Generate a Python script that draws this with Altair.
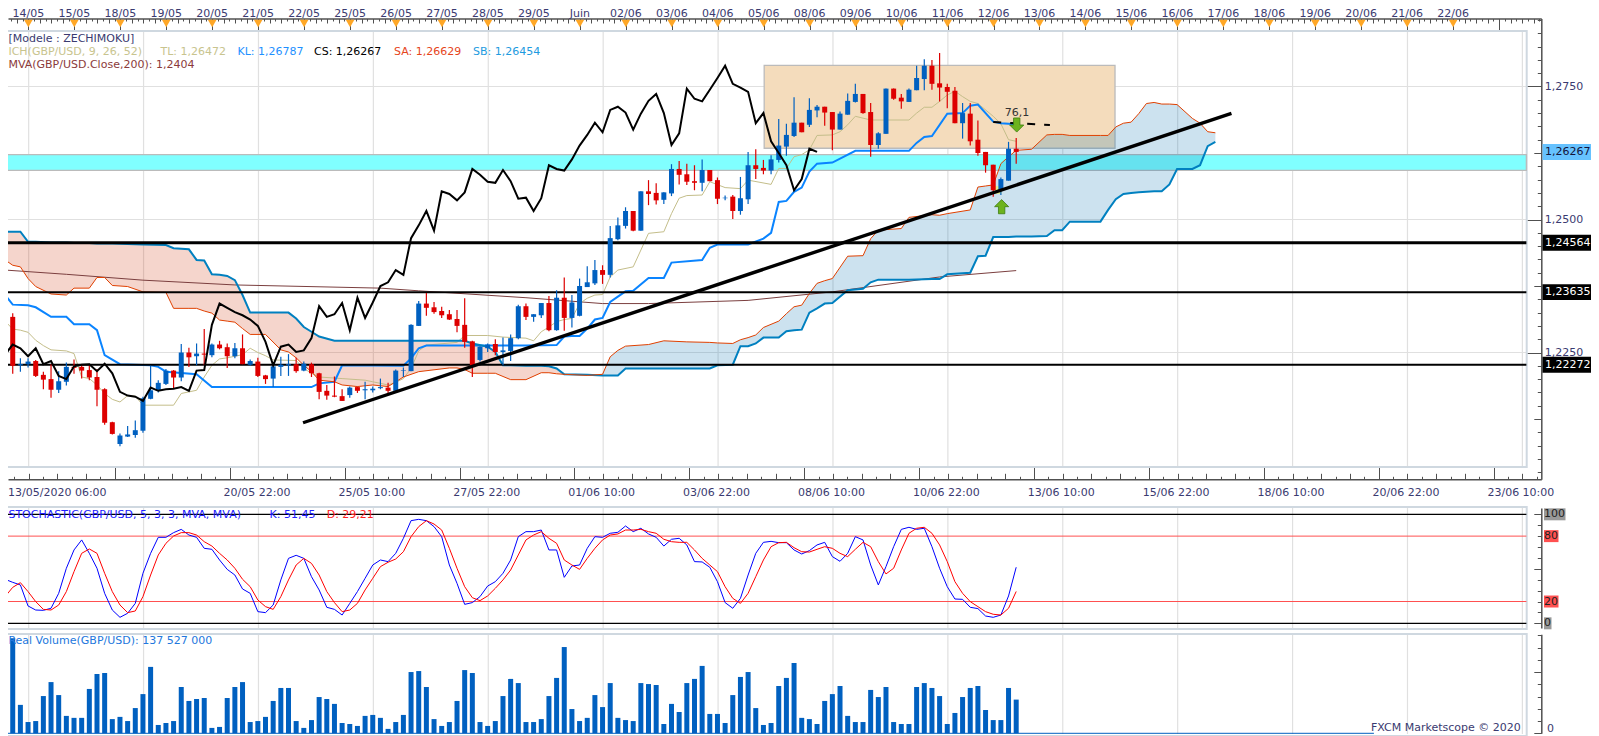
import altair as alt
import pandas as pd

# ---- candles (prices x 10000, one candle every 4 hours) ----
opens = [12273,12317,12226,12228,12234,12208,12200,12180,12195,12223,12223,12217,12204,12181,12119,12078,12092,12095,12103,12163,12178,12191,12216,12203,12250,12243,12248,12245,12265,12260,12243,12258,12227,12233,12207,12201,12223,12226,12228,12216,12228,12211,12178,12169,12168,12170,12185,12179,12179,12183,12184,12178,12216,12215,12300,12342,12335,12328,12322,12313,12302,12271,12236,12258,12266,12251,12253,12277,12337,12317,12320,12343,12292,12353,12315,12319,12373,12380,12405,12396,12463,12488,12516,12479,12553,12550,12537,12549,12595,12585,12572,12569,12593,12574,12540,12543,12516,12538,12602,12597,12592,12612,12637,12657,12682,12678,12705,12712,12702,12669,12697,12721,12736,12702,12640,12661,12746,12729,12721,12743,12764,12789,12756,12749,12742,12681,12699,12650,12627,12603,12555,12573,12633]
closes = [12317,12225,12228,12233,12206,12199,12180,12196,12223,12221,12216,12203,12180,12118,12097,12094,12096,12104,12164,12179,12193,12216,12203,12250,12241,12248,12246,12265,12258,12243,12258,12228,12234,12206,12200,12224,12227,12228,12215,12229,12211,12176,12169,12167,12159,12184,12178,12181,12182,12185,12178,12216,12217,12302,12342,12334,12326,12320,12312,12300,12270,12226,12261,12265,12251,12254,12277,12337,12317,12322,12343,12292,12353,12315,12344,12375,12382,12405,12396,12465,12489,12516,12479,12553,12548,12536,12551,12595,12584,12571,12569,12593,12572,12539,12541,12516,12540,12602,12595,12592,12613,12639,12659,12682,12664,12706,12712,12701,12669,12699,12723,12736,12700,12640,12662,12746,12727,12722,12744,12766,12789,12755,12748,12740,12681,12700,12647,12625,12602,12555,12576,12633,12627]
highs = [12337,12324,12239,12239,12236,12214,12228,12215,12231,12237,12228,12226,12219,12183,12120,12098,12112,12122,12167,12225,12198,12219,12217,12266,12259,12267,12294,12267,12272,12267,12268,12284,12237,12240,12208,12225,12242,12247,12240,12233,12231,12212,12189,12205,12181,12186,12186,12195,12186,12201,12193,12218,12222,12303,12347,12362,12345,12336,12330,12330,12352,12272,12262,12267,12275,12278,12284,12340,12342,12322,12343,12356,12367,12391,12358,12389,12412,12424,12414,12488,12504,12523,12516,12553,12574,12568,12551,12604,12610,12605,12602,12613,12593,12579,12545,12546,12580,12627,12632,12612,12621,12689,12680,12730,12682,12728,12715,12712,12702,12703,12737,12755,12736,12719,12664,12746,12746,12736,12746,12789,12801,12800,12813,12755,12749,12719,12719,12686,12627,12603,12579,12646,12653]
lows = [12267,12210,12214,12222,12204,12181,12165,12174,12188,12210,12201,12198,12149,12114,12096,12074,12091,12090,12099,12162,12175,12189,12183,12196,12223,12226,12226,12241,12256,12221,12239,12228,12225,12204,12191,12185,12206,12206,12212,12215,12204,12162,12161,12166,12159,12165,12174,12162,12175,12181,12171,12175,12204,12215,12300,12319,12323,12315,12311,12288,12259,12204,12233,12251,12245,12226,12234,12275,12311,12308,12315,12290,12291,12291,12297,12318,12373,12377,12379,12391,12461,12483,12478,12479,12527,12528,12529,12544,12566,12565,12555,12553,12572,12529,12536,12501,12509,12529,12576,12585,12585,12607,12620,12655,12664,12674,12692,12676,12630,12669,12697,12720,12699,12618,12633,12661,12725,12708,12721,12743,12743,12744,12722,12709,12681,12652,12639,12620,12588,12543,12546,12573,12605]

# ---- Ichimoku: Tenkan (TL) and Kijun (KL) vertices ----
tl_i = [0,1,2,3,4,5,6,8,9,10,11,12,13,14,15,16,17,18,22,23,25,26,27,28,29,31,32,33,34,35,38,39,40,41,44,47,48,49,50,51,52,53,54,55,59,60,63,65,68,69,70,71,72,73,74,75,76,77,78,79,80,82,84,86,87,88,89,91,92,94,96,97,100,101,102,103,104,105,106,108,109,110,111,113,118,119,120,121,122,123,124,125,126,127,129,130,131,132]
tl_p = [12309,12294,12292,12288,12273,12263,12255,12253,12248,12204,12201,12189,12173,12162,12157,12169,12168,12151,12151,12173,12179,12204,12226,12238,12240,12246,12258,12250,12244,12236,12235,12220,12211,12204,12201,12198,12195,12192,12189,12194,12201,12220,12253,12264,12269,12282,12282,12279,12277,12272,12289,12298,12308,12312,12314,12342,12352,12358,12359,12392,12405,12411,12474,12477,12511,12540,12545,12546,12571,12560,12558,12574,12566,12596,12596,12618,12622,12631,12658,12659,12665,12678,12694,12687,12687,12700,12711,12711,12722,12734,12741,12731,12722,12718,12694,12680,12650,12647]
kl_i = [0,1,3,4,6,8,9,11,12,13,15,19,20,21,25,27,40,41,43,44,52,53,54,55,68,72,73,74,75,76,77,78,79,80,81,82,84,86,87,91,92,93,97,99,100,101,102,103,104,105,106,108,111,118,119,120,121,123,125,126,127,129,130,132]
kl_p = [12358,12340,12339,12335,12317,12317,12303,12303,12292,12245,12228,12226,12223,12214,12209,12185,12185,12192,12195,12226,12225,12239,12258,12263,12263,12264,12280,12281,12281,12295,12312,12315,12345,12355,12365,12366,12390,12390,12419,12424,12447,12453,12453,12464,12475,12533,12535,12552,12560,12590,12605,12607,12629,12629,12644,12655,12657,12699,12700,12714,12716,12684,12681,12679]

# ---- Ichimoku cloud: Senkou A / Senkou B ----
cloud_i = [0,1,2,3,4,6,8,9,11,12,13,14,16,18,21,22,24,25,26,27,28,29,30,31,32,34,36,37,38,39,40,41,43,44,46,48,50,51,52,54,58,59,60,61,63,64,65,66,68,
           70,71,72,73,76,78,79,80,81,84,86,89,92,93,95,96,97,98,99,101,102,103,104,105,106,107,108,110,112,113,114,117,118,121,122,123,126,127,128,129,130,131,132,134,136,137,138,139,143,144,145,146,147,148,149,150,151,152,153,155,156,157,158]
senkou_a = [12424,12414,12411,12389,12374,12360,12358,12371,12371,12391,12391,12376,12374,12364,12363,12333,12333,12333,12328,12324,12311,12309,12307,12295,12284,12284,12255,12251,12240,12226,12214,12198,12195,12189,12186,12189,12186,12195,12204,12214,12221,12221,12218,12211,12211,12211,12205,12199,12199,
            12212,12212,12210,12209,12207,12209,12242,12254,12262,12265,12272,12270,12269,12268,12267,12274,12278,12283,12297,12309,12323,12336,12339,12361,12380,12385,12389,12431,12432,12464,12480,12483,12504,12509,12508,12511,12518,12561,12563,12565,12605,12618,12630,12632,12659,12660,12660,12658,12658,12658,12674,12681,12683,12699,12718,12720,12717,12717,12716,12690,12681,12665,12663]
senkou_b = [12477,12477,12477,12458,12458,12457,12457,12456,12456,12455,12455,12455,12454,12453,12452,12446,12444,12424,12423,12397,12396,12394,12386,12358,12325,12325,12325,12325,12314,12298,12289,12280,12272,12272,12272,12272,12272,12272,12272,12272,12272,12272,12272,12267,12261,12251,12226,12226,12225,
            12225,12224,12220,12209,12208,12207,12207,12207,12220,12220,12220,12220,12220,12226,12227,12262,12262,12267,12278,12278,12290,12292,12293,12325,12333,12342,12343,12367,12370,12382,12387,12387,12387,12388,12388,12397,12400,12431,12432,12467,12467,12467,12468,12468,12469,12480,12480,12496,12496,12518,12538,12548,12550,12551,12552,12553,12553,12566,12595,12595,12602,12638,12646]
cloud_turn = 78

# ---- 200-period moving average ----
mva_i = [0,8,18,30,49,54,68,78,84,97,108,122,132]
mva_p = [12405,12397,12386,12377,12371,12366,12353,12342,12342,12348,12364,12392,12404]

# ---- Stochastic ----
stoch_k = [40.4,37.6,35.2,15.9,12.2,11.9,13.8,27.5,50.5,67.3,76.5,64.2,50.5,27.5,12.2,5.5,9.2,18.3,45.9,64.2,78.9,78.9,83.2,86.2,81,78.9,68.8,67.9,58.1,49.5,44.3,31.5,27.5,10.7,9.8,16.8,39.8,59.6,62.4,59.6,42.8,30.6,14.7,12.8,7.6,18.3,29.1,41.3,53.5,58.1,56.6,64.2,78,94.2,95.4,94.2,88.7,79.5,53.5,36.7,17.4,19,24.5,34.2,38.2,45.9,58.1,79.5,84.1,
           84.1,85.6,67.3,67.3,42.2,52.6,53.5,68.8,79.5,78.9,82.6,83.5,89.3,84.1,87.2,82,78.9,70.9,77.1,78,71.9,56.6,56.3,51.4,38.2,19,13.8,22.9,44.3,64.2,74.3,75.2,74,74,67.3,63.6,66.7,71.9,74.3,61.2,56.9,64.2,79.5,76.5,53.5,35.2,52,70.3,86.2,88.1,86.2,87.2,70.3,50.5,33.6,22.3,22,14.7,13.5,6.7,5.5,7.6,25.1,51.45]
stoch_d = [24.5,33,37.3,29.1,19.9,12.8,12.2,16.8,29.1,47.4,64.2,68.2,64.2,45.9,29.1,16.8,9.8,11.3,24.5,44.3,62.7,73.4,80.1,83.2,83.2,81,74.9,70.9,64.2,58.1,50.5,40.4,33.6,21.4,15.3,12.8,24.5,39.8,53.5,59.6,55,44.3,29.1,19,10.7,12.2,18.3,30.6,41.3,52,56,59,65.7,79.5,88.7,94.2,91.1,85.6,68.8,50.5,33.6,23.5,20.8,25.1,32.1,39.8,48.9,62.7,76.5,
           81,84.1,78,73.4,58.1,53.5,49.5,59.6,68.8,76.5,81,82,85.6,85.6,86.2,84.1,82.6,77.1,74.9,74.3,74.3,67.3,59.6,53.5,47.4,33.6,22.9,18.3,27.5,42.8,58.1,70.3,74,74.3,69.4,65.7,65.4,67.9,70.3,68.8,64.2,61.2,67.9,74.3,70.3,56.6,45.3,50.5,67.3,82.6,87.2,88.1,82.6,71.9,56.6,38.2,27.5,19.9,15.3,10.7,8.3,7.6,13.8,29.21]

# ---- Real volume, millions ----
volume = [166,388,116,46,50,152,209,156,71,63,63,181,242,246,58,67,50,103,160,271,34,42,50,189,132,140,144,22,26,144,189,209,46,50,67,132,185,185,50,22,54,148,140,120,42,38,30,71,75,63,18,46,75,250,254,189,58,30,46,132,258,246,46,30,50,152,222,205,46,
          46,58,152,226,352,99,50,63,156,107,205,63,54,50,205,201,197,38,120,87,205,222,275,79,79,42,156,230,250,103,34,42,193,226,287,63,58,38,132,160,193,71,46,46,177,148,189,46,38,38,189,205,185,152,38,83,148,185,193,95,54,54,185,137.527]

# ---- levels, zones ----
support_levels = [1.24564, 1.23635, 1.22272]
support_widths = [3, 2, 2]
trend_i = [38.9, 160.1]
trend_p = [1.2118, 1.26996]
band_top, band_bottom = 1.26218, 1.25925
box_i = [99.1, 144.9]
box_top, box_bottom = 1.27898, 1.26339
fib_i = [129, 136.4]
fib_p = [1.26833, 1.26776]

# ---- text ----
day_labels = ["14/05","15/05","18/05","19/05","20/05","21/05","22/05","25/05","26/05","27/05","28/05","29/05","Juin","02/06","03/06","04/06","05/06","08/06","09/06","10/06","11/06","12/06","13/06","14/06","15/06","16/06","17/06","18/06","19/06","20/06","21/06","22/06"]
time_labels = ["13/05/2020 06:00","20/05 22:00","25/05 10:00","27/05 22:00","01/06 10:00","03/06 22:00","08/06 10:00","10/06 22:00","13/06 10:00","15/06 22:00","18/06 10:00","20/06 22:00","23/06 10:00"]

FONT = "DejaVu Sans"
INK = "#3A3A70"
UP, DOWN = "#0060C0", "#DD0000"
GRID = "#E0E0E0"
AX = "#505050"
FRAME = "#CFD8E0"
RIGHT = 198.6
VIEW_W = 1583

XS = alt.Scale(domain=[0.3825, 200.55], range=[0, 1533.3], zero=False, nice=False)
PY = alt.Scale(domain=[1.20117, 1.28778], range=[471.3, 10.5], zero=False, nice=False)
SY = alt.Scale(domain=[-4.3, 105.8], range=[620, 500], zero=False, nice=False)
VY = alt.Scale(domain=[0, 404], range=[725.3, 626.3], zero=False, nice=False)

def X(f="i"):
    return alt.X(f"{f}:Q", scale=XS, axis=None)
def Y(f, s=PY):
    return alt.Y(f"{f}:Q", scale=s, axis=None)
def P(vals):
    return [v / 10000 for v in vals]

def hrules(vals, scale, color, width):
    df = pd.DataFrame({"p": vals, "a": [-1] * len(vals), "b": [RIGHT] * len(vals)})
    return alt.Chart(df).mark_rule(color=color, strokeWidth=width).encode(x=X("a"), x2="b:Q", y=Y("p", scale))

def vgrid(y0, y1):
    df = pd.DataFrame({"i": [3.08 + 15 * k for k in range(14)]})
    return alt.Chart(df).mark_rule(color=GRID, strokeWidth=1.2).encode(x=X(), y=alt.value(y0), y2=alt.value(y1))

def frame(y0, y1):
    df = pd.DataFrame({"v": [0]})
    return alt.Chart(df).mark_rect(fillOpacity=0, stroke=FRAME, strokeWidth=2).encode(
        x=alt.value(-6), x2=alt.value(1518.7), y=alt.value(y0), y2=alt.value(y1))

def series(ix, vals, scale, color, width, dash=None):
    df = pd.DataFrame({"i": ix, "p": vals})
    kw = {"strokeDash": dash} if dash else {}
    return alt.Chart(df).mark_line(color=color, strokeWidth=width, **kw).encode(x=X(), y=Y("p", scale))

def txt(s, x, y, color, align="left", size=11):
    df = pd.DataFrame({"t": [s]})
    return alt.Chart(df).mark_text(align=align, baseline="middle", font=FONT, fontSize=size, color=color).encode(
        x=alt.value(x - 8), y=alt.value(y - 8), text="t:N")

def xaxis(values, orient, offset, size, domain=False):
    df = pd.DataFrame({"v": [50]})
    ax = alt.Axis(orient=orient, offset=offset, values=values, tickSize=size, labels=False, title=None, grid=False,
                  domain=domain, domainColor=AX, domainWidth=1.5, tickColor=AX, tickWidth=1)
    return alt.Chart(df).mark_rule(opacity=0).encode(x=alt.X("v:Q", scale=XS, axis=ax))

def yaxis(values, scale, size, domain=False):
    df = pd.DataFrame({"v": [values[0]]})
    ax = alt.Axis(orient="left", offset=-1533.3, values=values, tickSize=size, labels=False, title=None, grid=False,
                  domain=domain, domainColor=AX, domainWidth=1.5, tickColor=AX, tickWidth=1)
    return alt.Chart(df).mark_rule(opacity=0).encode(y=alt.Y("v:Q", scale=scale, axis=ax))

layers = []

# grids and frames
layers += [vgrid(23, 459), vgrid(499, 621), vgrid(626, 726)]
layers.append(hrules([1.275, 1.25, 1.225], PY, GRID, 1.2))
layers += [frame(23, 459), frame(499, 621), frame(626, 728)]

# zones
band = pd.DataFrame({"a": [-2], "b": [RIGHT], "t": [band_top], "u": [band_bottom]})
layers.append(alt.Chart(band).mark_rect(fill="#80FFFF", stroke="#BBBBBB", strokeWidth=1.3).encode(
    x=X("a"), x2="b:Q", y=Y("t"), y2="u:Q"))
box = pd.DataFrame({"a": [box_i[0]], "b": [box_i[1]], "t": [box_top], "u": [box_bottom]})
layers.append(alt.Chart(box).mark_rect(fill="#F4DCBC", stroke="#BBBBBB", strokeWidth=1.3).encode(
    x=X("a"), x2="b:Q", y=Y("t"), y2="u:Q"))

# cloud
cloud = pd.DataFrame({"i": cloud_i, "a": P(senkou_a), "b": P(senkou_b)})
layers.append(alt.Chart(cloud[cloud.i <= cloud_turn]).mark_area(color="rgb(205,45,0)", opacity=0.2, orient="vertical").encode(
    x=X(), y=Y("a"), y2="b:Q"))
layers.append(alt.Chart(cloud[cloud.i >= cloud_turn]).mark_area(color="rgb(0,112,176)", opacity=0.2, orient="vertical").encode(
    x=X(), y=Y("a"), y2="b:Q"))

# indicator lines
layers.append(series(mva_i, P(mva_p), PY, "#7B3F3F", 1))
layers.append(series(tl_i, P(tl_p), PY, "#C4BE8A", 1))
layers.append(series(kl_i, P(kl_p), PY, "#0A84FF", 2))
layers.append(series(cloud_i, P(senkou_b), PY, "#0080C0", 2))
layers.append(series(cloud_i, P(senkou_a), PY, "#E04000", 1))

# horizontal levels
for lvl, w in zip(support_levels, support_widths):
    layers.append(hrules([lvl], PY, "black", w))

# marker behind the low candle
layers.append(alt.Chart(pd.DataFrame({"i": [129.6], "p": [1.25555]})).mark_point(
    shape="square", filled=True, color="#E4EE8E", size=60, opacity=1).encode(x=X(), y=Y("p")))

# candles
cdl = pd.DataFrame({"i": list(range(len(opens))), "o": P(opens), "c": P(closes), "h": P(highs), "l": P(lows)})
cdl["col"] = [UP if c >= o else DOWN for o, c in zip(opens, closes)]
layers.append(alt.Chart(cdl).mark_rule(strokeWidth=1.2).encode(
    x=X(), y=Y("h"), y2="l:Q", color=alt.Color("col:N", scale=None, legend=None)))
layers.append(alt.Chart(cdl).mark_rule(strokeWidth=5).encode(
    x=X(), y=Y("o"), y2="c:Q", color=alt.Color("col:N", scale=None, legend=None)))

# chikou: closes displaced 26 candles back
chikou = P(closes[26:])
layers.append(series(list(range(len(chikou))), chikou, PY, "black", 2))

# trend line, dashed retracement and arrows
layers.append(series(trend_i, trend_p, PY, "black", 3.4))
layers.append(series(fib_i, fib_p, PY, "black", 2, dash=[8, 9]))
UP_ARROW = "M0,-1L1,0L0.45,0L0.45,1L-0.45,1L-0.45,0L-1,0Z"
DOWN_ARROW = "M0,1L1,0L0.45,0L0.45,-1L-0.45,-1L-0.45,0L-1,0Z"
layers.append(alt.Chart(pd.DataFrame({"i": [130.1], "p": [1.25241]})).mark_point(
    shape=UP_ARROW, filled=True, color="#6DB31E", stroke="#3E7D10", strokeWidth=0.8, size=200, opacity=1).encode(x=X(), y=Y("p")))
layers.append(alt.Chart(pd.DataFrame({"i": [132.07], "p": [1.26776]})).mark_point(
    shape=DOWN_ARROW, filled=True, color="#6DB31E", stroke="#3E7D10", strokeWidth=0.8, size=200, opacity=1).encode(x=X(), y=Y("p")))

# stochastic
layers.append(hrules([0, 100], SY, "black", 1.2))
layers.append(hrules([20, 80], SY, "#FF5050", 1))
layers.append(series(list(range(len(stoch_k))), stoch_k, SY, "#0000FF", 1))
layers.append(series(list(range(len(stoch_d))), stoch_d, SY, "#FF0000", 1))

# volume
vol = pd.DataFrame({"i": list(range(len(volume))), "v": volume, "z": [0] * len(volume)})
layers.append(alt.Chart(vol).mark_rule(strokeWidth=5, color=UP).encode(x=X(), y=Y("v", VY), y2="z:Q"))
layers.append(alt.Chart(pd.DataFrame({"a": [-1], "b": [178.7], "v": [0]})).mark_rule(color=UP, strokeWidth=1).encode(
    x=X("a"), x2="b:Q", y=Y("v", VY)))

# top ruler
day_i = [3.04 + 6 * k for k in range(len(day_labels))]
ruler = [3.04 + 0.75 * k for k in range(-4, 264)]
layers.append(xaxis([v for n, v in enumerate(ruler) if (n % 2) == 0], "bottom", -717.5, 4.5, domain=True))
layers.append(xaxis([v for n, v in enumerate(ruler) if (n % 2) == 1], "bottom", -717.5, 2.5))
layers.append(xaxis(day_i + [3.04 + 6 * len(day_labels)], "bottom", -717.5, 11.7))
layers.append(alt.Chart(pd.DataFrame({"i": day_i})).mark_point(
    shape="triangle-down", filled=True, color="#FFA726", size=75, opacity=1).encode(x=X(), y=alt.value(15.5)))
layers.append(alt.Chart(pd.DataFrame({"i": day_i, "t": day_labels})).mark_text(
    font=FONT, fontSize=11, color=INK, baseline="middle").encode(x=X(), y=alt.value(6), text="t:N"))

# bottom time axis
bottom = [3.08 + 1.875 * k for k in range(-1, 106)]
layers.append(xaxis([v for n, v in enumerate(bottom) if (n + 1) % 8 == 0], "top", -471.3, 12.6, domain=True))
layers.append(xaxis([v for n, v in enumerate(bottom) if (n + 1) % 8 != 0 and (n + 1) % 2 == 0], "top", -471.3, 6))
layers.append(xaxis([v for n, v in enumerate(bottom) if (n + 1) % 2 == 1], "top", -471.3, 3))
# the long first label takes the room of the second grid line
time_i = [3.08 + 15 * k for k in range(2, 14)]
layers.append(alt.Chart(pd.DataFrame({"i": time_i, "t": time_labels[1:]})).mark_text(
    font=FONT, fontSize=11, color=INK, baseline="middle", dx=-1.5).encode(x=X(), y=alt.value(485), text="t:N"))
layers.append(txt(time_labels[0], 8, 493, INK))

# price axis
minor_p = [round(1.2025 + 0.0025 * k, 4) for k in range(35)]
layers.append(yaxis(minor_p, PY, 4, domain=True))
layers.append(yaxis([1.2125, 1.2375, 1.2625], PY, 7.5))
layers.append(yaxis([1.225, 1.25, 1.275], PY, 14.4))
price_ax = alt.Axis(orient="right", offset=1533.3 - VIEW_W, values=[1.225, 1.25, 1.275], tickSize=0, domain=False, grid=False, title=None,
                    labelFont=FONT, labelFontSize=11, labelColor=INK, labelPadding=3, labelExpr="replace(format(datum.value,'.4f'),'.',',')")
layers.append(alt.Chart(pd.DataFrame({"v": [1.25]})).mark_rule(opacity=0).encode(y=alt.Y("v:Q", scale=PY, axis=price_ax)))

# price badges
badge_p = [1.26267] + support_levels
badge_t = ["1,26267", "1,24564", "1,23635", "1,22272"]
badge_bg = ["#66C2FF", "black", "black", "black"]
badge_fg = ["#14143C", "white", "white", "white"]
badges = pd.DataFrame({"p": badge_p, "t": badge_t, "bg": badge_bg, "fg": badge_fg})
badges["lo"] = badges.p - 0.0015
badges["hi"] = badges.p + 0.0015
layers.append(alt.Chart(badges).mark_rect().encode(
    x=alt.value(1534.5), x2=alt.value(VIEW_W), y=Y("lo"), y2="hi:Q", color=alt.Color("bg:N", scale=None, legend=None)))
layers.append(alt.Chart(badges).mark_text(align="left", baseline="middle", font=FONT, fontSize=11).encode(
    x=alt.value(1537), y=Y("p"), text="t:N", color=alt.Color("fg:N", scale=None, legend=None)))

# stochastic axis and chips
layers.append(yaxis([10, 20, 30, 40, 60, 70, 80, 90], SY, 4, domain=True))
layers.append(yaxis([0, 50, 100], SY, 7.5))
chip_v = [100, 80, 20, 0]
chip_t = ["100", "80", "20", "0"]
chip_x2 = [1557.5, 1550.5, 1550.5, 1543.5]
chip_bg = ["#999999", "#FF5050", "#FF5050", "#999999"]
chips = pd.DataFrame({"p": chip_v, "t": chip_t, "x2": chip_x2, "bg": chip_bg})
chips["lo"] = chips.p - 5.5
chips["hi"] = chips.p + 5.5
for _, r in chips.iterrows():
    one = pd.DataFrame([r.to_dict()])
    layers.append(alt.Chart(one).mark_rect(color=r.bg).encode(
        x=alt.value(1536), x2=alt.value(r.x2), y=Y("lo", SY), y2="hi:Q"))
layers.append(alt.Chart(chips).mark_text(align="left", baseline="middle", font=FONT, fontSize=11, color="#222222").encode(
    x=alt.value(1536), y=Y("p", SY), text="t:N"))

# volume axis
layers.append(yaxis([50, 100, 150, 200, 300, 350, 400], VY, 4, domain=True))
layers.append(yaxis([0, 250], VY, 7.5))

# annotation text
layers += [
    txt("[Modele : ZECHIMOKU]", 8.4, 39, INK),
    txt("ICH(GBP/USD, 9, 26, 52)", 8.4, 52, "#C8C48E"),
    txt("TL: 1,26472", 160.5, 52, "#C8C48E"),
    txt("KL: 1,26787", 237.5, 52, "#1E90FF"),
    txt("CS: 1,26267", 314, 52, "black"),
    txt("SA: 1,26629", 394, 52, "#E6451A"),
    txt("SB: 1,26454", 473, 52, "#1E9BE0"),
    txt("MVA(GBP/USD.Close,200): 1,2404", 8.4, 65.3, "#8B3A3A"),
    txt("76,1", 1017, 113, "#333333", align="center", size=11),
    txt("STOCHASTIC(GBP/USD, 5, 3, 3, MVA, MVA)", 8.4, 515, "#2020FF"),
    txt("K: 51,45", 269.6, 515, "#2020FF"),
    txt("D: 29,21", 326.7, 515, "#FF2020"),
    txt("Real Volume(GBP/USD): 137 527 000", 8.4, 641, "#2277DD"),
    txt("FXCM Marketscope © 2020", 1371, 728, INK),
    txt("0", 1547, 729, INK),
]

chart = (
    alt.layer(*layers)
    .resolve_scale(y="independent")
    .resolve_axis(x="independent", y="independent")
    .properties(width=VIEW_W, height=728, padding=0, autosize=alt.AutoSizeParams(type="none"))
    .configure_view(strokeWidth=0)
)
chart.save("out.html", embed_options={"renderer": "svg", "actions": False})
